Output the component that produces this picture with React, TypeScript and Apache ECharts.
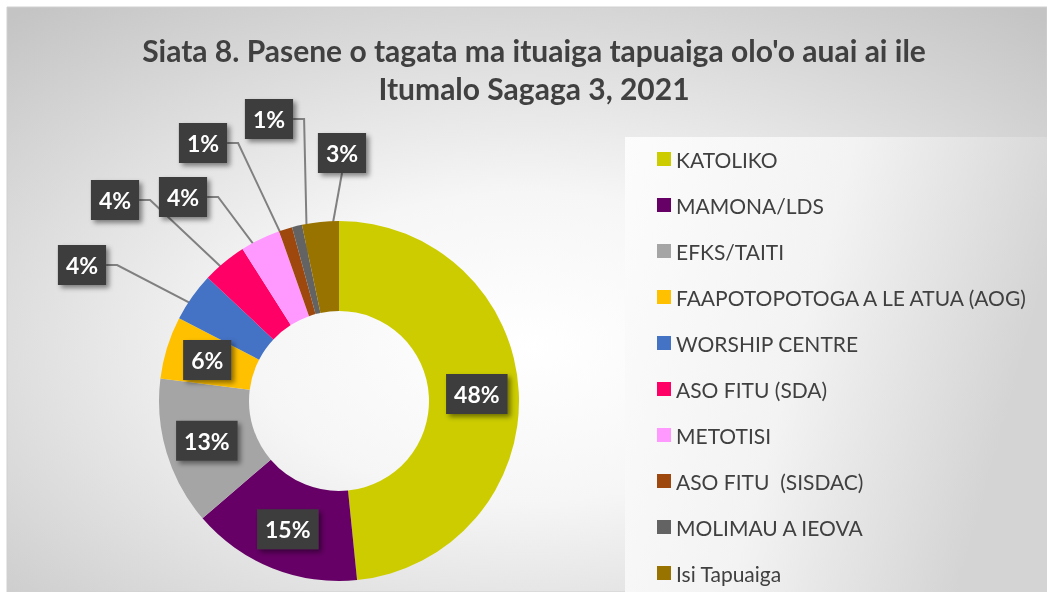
import React, { useEffect, useRef } from "react";
import * as echarts from "echarts";

const titleLines = ["Siata 8. Pasene o tagata ma ituaiga tapuaiga olo'o auai ai ile", "Itumalo Sagaga 3, 2021"];
const categories = [
  "KATOLIKO",
  "MAMONA/LDS",
  "EFKS/TAITI",
  "FAAPOTOPOTOGA A LE ATUA (AOG)",
  "WORSHIP CENTRE",
  "ASO FITU (SDA)",
  "METOTISI",
  "ASO FITU  (SISDAC)",
  "MOLIMAU A IEOVA",
  "Isi Tapuaiga",
];
const shares = [48.4, 15.3, 13.3, 5.6, 4.4, 4.0, 3.6, 1.2, 0.9, 3.3];
const colors = ["#CCCC00", "#660066", "#A5A5A5", "#FFC000", "#4472C4", "#FF0066", "#FF99FF", "#9E480E", "#636363", "#997300"];

// layout (label callout positions, not data)
const CX = 339, CY = 401, R_IN = 90, R_OUT = 180;
const calloutPos: (number[] | null)[] = [null, null, null, null, [82, 265], [115, 200], [183, 197], [203, 143], [269, 119], [342, 153]];
const calloutSide = ["", "", "", "", "right", "right", "right", "right", "right", "bottom"];

const FONT = "Lato, 'Open Sans', sans-serif";

export default function App() {
  const ref = useRef<HTMLDivElement>(null);
  useEffect(() => {
    if (!ref.current) return;
    const chart = echarts.init(ref.current, null, { renderer: "svg" });
    const total = shares.reduce((a, b) => a + b, 0);
    const cum: number[] = [];
    let acc = 0;
    shares.forEach((v) => { cum.push(acc + v / 2); acc += v; });

    const option: any = {
      animation: false,
      graphic: [
        {
          type: "rect",
          z: -10,
          shape: { x: 7, y: 7, width: 1040, height: 585 },
          style: {
            fill: {
              type: "radial", x: 0.5, y: 0.58, r: 0.75,
              colorStops: [
                { offset: 0, color: "#ffffff" },
                { offset: 0.35, color: "#f6f6f6" },
                { offset: 1, color: "#c4c4c4" },
              ],
            },
            stroke: "#d0d0d0", lineWidth: 1,
          },
        },
        {
          type: "rect",
          z: -9,
          shape: { x: 625, y: 137, width: 422, height: 455 },
          style: {
            fill: {
              type: "linear", x: 0, y: 0, x2: 1, y2: 0.3,
              colorStops: [
                { offset: 0, color: "#fcfcfc" },
                { offset: 0.5, color: "#f3f3f3" },
                { offset: 1, color: "#d4d4d4" },
              ],
            },
          },
        },
        {
          type: "text",
          x: 534, y: 50,
          style: { text: titleLines[0], fill: "#404040", font: `bold 30px ${FONT}`, textAlign: "center", textVerticalAlign: "middle" },
        },
        {
          type: "text",
          x: 534, y: 88,
          style: { text: titleLines[1], fill: "#404040", font: `bold 30px ${FONT}`, textAlign: "center", textVerticalAlign: "middle" },
        },
      ],
      legend: {
        orient: "vertical",
        left: 652,
        top: 142,
        height: 470,
        itemWidth: 14,
        itemHeight: 14,
        itemGap: 22,
        icon: "rect",
        data: categories,
        textStyle: { color: "#404040", fontSize: 21, fontFamily: FONT, lineHeight: 24 },
      },
      series: [
        {
          type: "pie",
          center: [CX, CY],
          radius: [R_IN, R_OUT],
          startAngle: 90,
          clockwise: true,
          avoidLabelOverlap: false,
          label: {
            show: true,
            formatter: (p: any) => Math.round(p.value) + "%",
            color: "#ffffff",
            fontFamily: FONT,
            fontWeight: "bold",
            fontSize: 23,
            lineHeight: 24,
            backgroundColor: "#3d3d3d",
            padding: [8, 8],
            shadowColor: "rgba(0,0,0,0.45)",
            shadowBlur: 5,
            shadowOffsetX: 3,
            shadowOffsetY: 3,
          },
          labelLine: { show: true, lineStyle: { color: "#808080", width: 2 }, smooth: false },
          labelLayout: (params: any) => {
            const i = params.dataIndex;
            const pos = calloutPos[i];
            if (!pos) return {};
            const theta = (cum[i] / total) * Math.PI * 2;
            const rMid = (R_IN + R_OUT) / 2;
            const ax = CX + rMid * Math.sin(theta);
            const ay = CY - rMid * Math.cos(theta);
            const w = params.labelRect.width;
            const h = params.labelRect.height;
            let pts;
            if (calloutSide[i] === "bottom") {
              pts = [[ax, ay], [pos[0], pos[1] + h / 2], [pos[0], pos[1] + h / 2]];
            } else {
              const ex = pos[0] + w / 2;
              pts = [[ax, ay], [ex + 11, pos[1]], [ex, pos[1]]];
            }
            return { x: pos[0], y: pos[1], align: "center", verticalAlign: "middle", labelLinePoints: pts };
          },
          data: categories.map((name, i) => ({
            name,
            value: shares[i],
            itemStyle: { color: colors[i] },
            label: calloutPos[i] ? { position: "outside" } : { position: "inside" },
            labelLine: { show: !!calloutPos[i] },
          })),
        },
      ],
    };
    chart.setOption(option);
    return () => chart.dispose();
  }, []);
  return <div ref={ref} style={{ position: "fixed", left: 0, top: 0, width: 1047, height: 592 }} />;
}
